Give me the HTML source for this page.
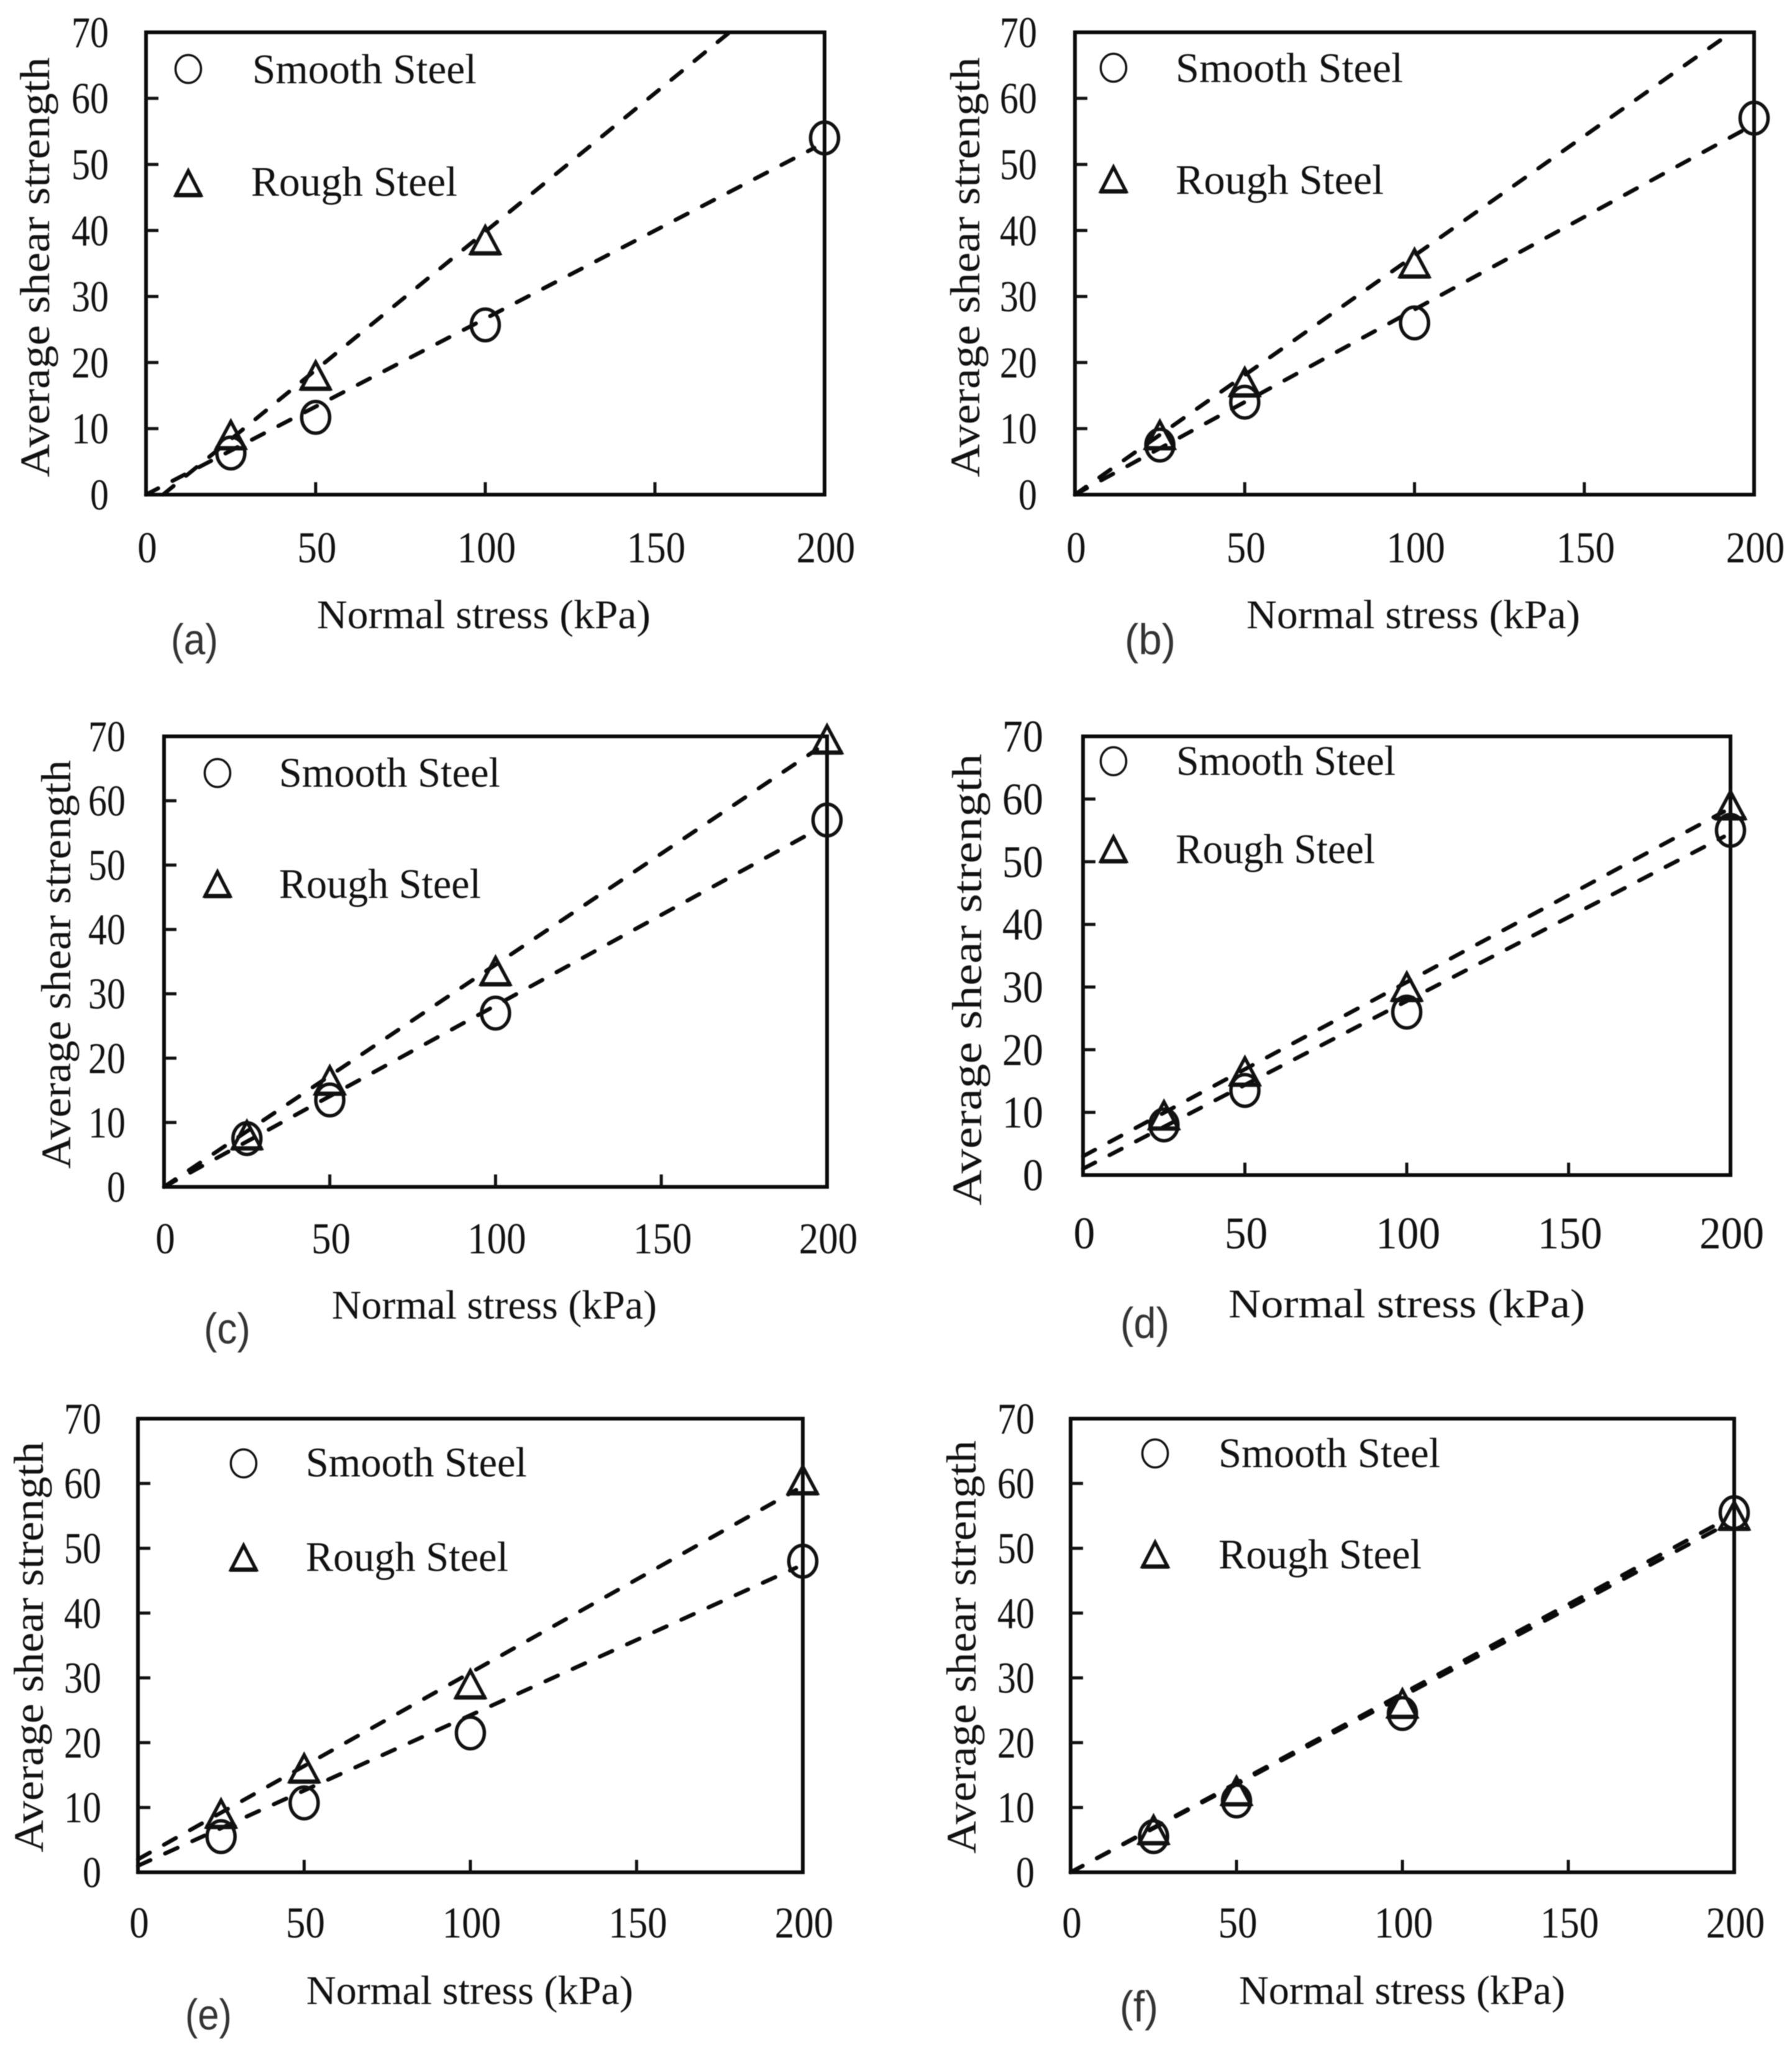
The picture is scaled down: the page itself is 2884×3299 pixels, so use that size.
<!DOCTYPE html>
<html lang="en">
<head>
<meta charset="utf-8">
<title>Average shear strength versus normal stress</title>
<style>
html,body{margin:0;padding:0;background:#fff;}
svg{display:block;filter:blur(0.7px);}
text{fill:#111;font-family:"Liberation Serif",serif;}
</style>
</head>
<body>
<svg id="figure" xmlns="http://www.w3.org/2000/svg" width="2884" height="3299" viewBox="0 0 2884 3299"></svg>
<script>
const xTicks = [0, 50, 100, 150, 200];
const yTicks = [0, 10, 20, 30, 40, 50, 60, 70];
const stressA = [25, 50, 100, 200];
const smoothA = [6.3, 11.7, 25.7, 54];
const stressRoughA = [25, 50, 100];
const roughA = [9, 18, 38.5];
const fitSmoothXA = [0, 197];
const fitSmoothYA = [0, 52.5];
const fitRoughXA = [5, 172];
const fitRoughYA = [0, 70];

const stressB = [25, 50, 100, 200];
const smoothB = [7.5, 14, 26, 57];
const stressRoughB = [25, 50, 100];
const roughB = [9, 17, 35];
const fitSmoothXB = [0, 198];
const fitSmoothYB = [0, 55.5];
const fitRoughXB = [0, 192];
const fitRoughYB = [0, 69.5];

const stressC = [25, 50, 100, 200];
const smoothC = [7.5, 13.5, 27, 57];
const stressRoughC = [25, 50, 100, 200];
const roughC = [8, 16.5, 33.5, 69.5];
const fitSmoothXC = [0, 197];
const fitSmoothYC = [0, 55.5];
const fitRoughXC = [0, 197];
const fitRoughYC = [0, 68];

const stressD = [25, 50, 100, 200];
const smoothD = [8, 13.5, 26, 55];
const stressRoughD = [25, 50, 100, 200];
const roughD = [9.5, 16.5, 30, 59];
const fitSmoothXD = [0, 198];
const fitSmoothYD = [1, 54];
const fitRoughXD = [0, 198];
const fitRoughYD = [3, 58];

const stressE = [25, 50, 100, 200];
const smoothE = [5.5, 10.7, 21.5, 48];
const stressRoughE = [25, 50, 100, 200];
const roughE = [9, 16, 29, 60.5];
const fitSmoothXE = [0, 198];
const fitSmoothYE = [1, 47];
const fitRoughXE = [0, 198];
const fitRoughYE = [2, 59];

const stressF = [25, 50, 100, 200];
const smoothF = [5.5, 11, 24.5, 55.5];
const stressRoughF = [25, 50, 100, 200];
const roughF = [6.5, 12.5, 26, 55];
const fitSmoothXF = [0, 197];
const fitSmoothYF = [0, 53.5];
const fitRoughXF = [0, 197];
const fitRoughYF = [0, 54.3];

const panels = [
  {id:'a',box:[235,1327,52,796],tickSize:60,tickScale:1.18,xLabelDrop:109,yLabelGap:60,
   yTitle:[79,92,768],xTitle:[510,1047,1011],
   legend:[303,111,406,767,134,303,296,404,736,315],tag:['(a)',275,351,1053],
   sx:stressA,sy:smoothA,rx:stressRoughA,ry:roughA,fsx:fitSmoothXA,fsy:fitSmoothYA,frx:fitRoughXA,fry:fitRoughYA},
  {id:'b',box:[1730,2823,52,796],tickSize:60,tickScale:1.18,xLabelDrop:109,yLabelGap:61,
   yTitle:[1576,92,768],xTitle:[2006,2543,1011],
   legend:[1792,109,1892,2258,132,1792,290,1892,2227,312],tag:['(b)',1810,1892,1053],
   sx:stressB,sy:smoothB,rx:stressRoughB,ry:roughB,fsx:fitSmoothXB,fsy:fitSmoothYB,frx:fitRoughXB,fry:fitRoughYB},
  {id:'c',box:[264,1331,1185,1910],tickSize:60,tickScale:1.18,xLabelDrop:107,yLabelGap:62,
   yTitle:[113,1223,1881],xTitle:[534,1057,2122],
   legend:[350,1244,449,805,1266,350,1424,449,774,1445],tag:['(c)',328,403,2162],
   sx:stressC,sy:smoothC,rx:stressRoughC,ry:roughC,fsx:fitSmoothXC,fsy:fitSmoothYC,frx:fitRoughXC,fry:fitRoughYC},
  {id:'d',box:[1743,2785,1185,1891],tickSize:66,tickScale:1.1,xLabelDrop:118,yLabelGap:64,
   yTitle:[1579,1213,1940],xTitle:[1977,2551,2120],
   legend:[1792,1225,1893,2246,1247,1792,1368,1892,2213,1389],tag:['(d)',1803,1882,2153],
   sx:stressD,sy:smoothD,rx:stressRoughD,ry:roughD,fsx:fitSmoothXD,fsy:fitSmoothYD,frx:fitRoughXD,fry:fitRoughYD},
  {id:'e',box:[222,1292,2283,3013],tickSize:60,tickScale:1.18,xLabelDrop:105,yLabelGap:59,
   yTitle:[69,2320,2981],xTitle:[493,1019,3225],
   legend:[392,2355,492,848,2376,392,2508,492,818,2528],tag:['(e)',298,373,3266],
   sx:stressE,sy:smoothE,rx:stressRoughE,ry:roughE,fsx:fitSmoothXE,fsy:fitSmoothYE,frx:fitRoughXE,fry:fitRoughYE},
  {id:'f',box:[1723,2791,2283,3013],tickSize:60,tickScale:1.18,xLabelDrop:105,yLabelGap:58,
   yTitle:[1570,2318,2983],xTitle:[1994,2519,3225],
   legend:[1859,2339,1961,2318,2361,1859,2503,1961,2288,2524],tag:['(f)',1802,1864,3253],
   sx:stressF,sy:smoothF,rx:stressRoughF,ry:roughF,fsx:fitSmoothXF,fsy:fitSmoothYF,frx:fitRoughXF,fry:fitRoughYF}
];

const NS = 'http://www.w3.org/2000/svg';
const figure = document.getElementById('figure');

function make(tag, parent, attrs, content) {
  const el = document.createElementNS(NS, tag);
  for (const k in attrs) el.setAttribute(k, attrs[k]);
  if (content !== undefined) el.textContent = content;
  parent.appendChild(el);
  return el;
}

function fitText(parent, str, x1, x2, baseline, size, name) {
  const el = make('text', parent, {x:x1, y:baseline, 'font-size':size, textLength:x2 - x1, lengthAdjust:'spacingAndGlyphs'}, str);
  
  
  return el;
}

function drawCircle(parent, cx, cy, rx, ry, sw, name) {
  const el = make('ellipse', parent, {cx:cx, cy:cy, rx:rx, ry:ry, fill:'none', stroke:'#111', 'stroke-width':sw});
  
  
}

function drawTriangle(parent, cx, cy, hw, up, down, name) {
  const pts = [cx, cy - up, cx + hw, cy + down, cx - hw, cy + down].join(' ');
  const el = make('polygon', parent, {points:pts, fill:'none', stroke:'#111', 'stroke-width':5.5, 'stroke-linejoin':'miter', 'stroke-miterlimit':6});
  
  
  const base = make('line', parent, {x1:cx - hw - 2, x2:cx + hw + 2, y1:cy + down, y2:cy + down, stroke:'#111', 'stroke-width':7});
  
  
}

panels.forEach(function (p) {
  const left = p.box[0], right = p.box[1], top = p.box[2], bottom = p.box[3];
  const xScale = function (v) { return left + v / 200 * (right - left); };
  const yScale = function (v) { return bottom - v / 70 * (bottom - top); };

  const g = make('g', figure, {});
  
  

  const frame = make('rect', g, {x:left, y:top, width:right - left, height:bottom - top, fill:'none', stroke:'#0a0a0a', 'stroke-width':6});
  
  

  yTicks.forEach(function (t) {
    if (t > 0 && t < 70) {
      const tick = make('line', g, {x1:left, x2:left + 20, y1:yScale(t), y2:yScale(t), stroke:'#111', 'stroke-width':5});
      
      
    }
    const lx = left - p.yLabelGap;
    const ly = yScale(t) + p.tickSize * 0.676 * p.tickScale / 2;
    const label = make('text', g, {'text-anchor':'end', 'font-size':p.tickSize, transform:'translate(' + lx + ' ' + ly + ') scale(1 ' + p.tickScale + ')'}, String(t));
    
    
  });

  xTicks.forEach(function (t) {
    if (t > 0 && t < 200) {
      const tick = make('line', g, {x1:xScale(t), x2:xScale(t), y1:bottom, y2:bottom - 20, stroke:'#111', 'stroke-width':5});
      
      
    }
    const label = make('text', g, {'text-anchor':'middle', 'font-size':p.tickSize, transform:'translate(' + (xScale(t) + 2) + ' ' + (bottom + p.xLabelDrop) + ') scale(1.05 ' + p.tickScale + ')'}, String(t));
    
    
  });

  const fitSmooth = make('line', g, {x1:xScale(p.fsx[0]), y1:yScale(p.fsy[0]), x2:xScale(p.fsx[1]), y2:yScale(p.fsy[1]), stroke:'#0a0a0a', 'stroke-width':6.5, 'stroke-dasharray':'22 26', 'stroke-linecap':'round'});
  
  

  const fitRough = make('line', g, {x1:xScale(p.frx[0]), y1:yScale(p.fry[0]), x2:xScale(p.frx[1]), y2:yScale(p.fry[1]), stroke:'#0a0a0a', 'stroke-width':6.5, 'stroke-dasharray':'22 26', 'stroke-linecap':'round'});
  
  

  p.sx.forEach(function (x, i) {
    drawCircle(g, xScale(x), yScale(p.sy[i]), 22.5, 25.5, 5.5, 'smooth-steel-point');
  });
  p.rx.forEach(function (x, i) {
    drawTriangle(g, xScale(x), yScale(p.ry[i]), 23, 22, 21, 'rough-steel-point');
  });

  const L = p.legend;
  drawCircle(g, L[0], L[1], 20.5, 22.5, 3.5, 'legend-smooth-marker');
  fitText(g, 'Smooth Steel', L[2], L[3], L[4], 68, 'legend-smooth-label');
  drawTriangle(g, L[5], L[6], 20, 21, 18, 'legend-rough-marker');
  fitText(g, 'Rough Steel', L[7], L[8], L[9], 68, 'legend-rough-label');

  fitText(g, 'Normal stress (kPa)', p.xTitle[0], p.xTitle[1], p.xTitle[2], 66, 'x-axis-title');

  const yTitleLen = p.yTitle[2] - p.yTitle[1];
  const yTitle = make('text', g, {'font-size':68, textLength:yTitleLen, lengthAdjust:'spacingAndGlyphs', transform:'translate(' + p.yTitle[0] + ' ' + p.yTitle[2] + ') rotate(-90)'}, 'Average shear strength');
  
  

  const tag = fitText(g, p.tag[0], p.tag[1], p.tag[2], p.tag[3], 70, 'panel-label');
  tag.setAttribute('style', 'font-family:"Liberation Sans",sans-serif;fill:#333;');
});
</script>
</body>
</html>
